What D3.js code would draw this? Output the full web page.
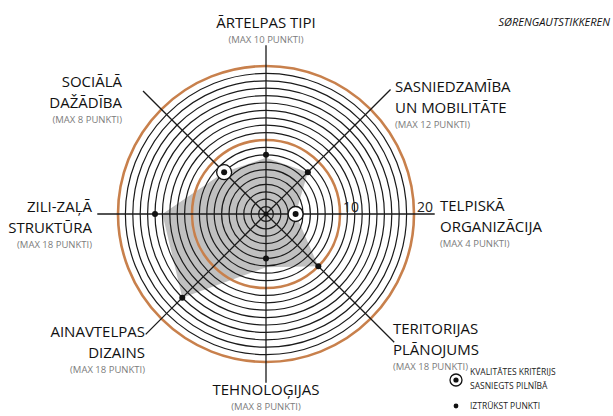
<!DOCTYPE html>
<html>
<head>
<meta charset="utf-8">
<script src="https://cdn.jsdelivr.net/npm/d3@7"></script>
<style>
  html, body { margin: 0; padding: 0; background: #fff; }
  svg { display: block; }
  text { font-family: "Open Sans", "Noto Sans", sans-serif; }
</style>
</head>
<body>
<svg id="chart" width="613" height="416"></svg>
<script>
// Criteria, clockwise from the top
const criteria = ["ĀRTELPAS TIPI", "SASNIEDZAMĪBA UN MOBILITĀTE", "TELPISKĀ ORGANIZĀCIJA",
  "TERITORIJAS PLĀNOJUMS", "TEHNOLOĢIJAS", "AINAVTELPAS DIZAINS",
  "ZILI-ZAĻĀ STRUKTŪRA", "SOCIĀLĀ DAŽĀDĪBA"];
const labelLines = [["ĀRTELPAS TIPI"], ["SASNIEDZAMĪBA", "UN MOBILITĀTE"], ["TELPISKĀ", "ORGANIZĀCIJA"],
  ["TERITORIJAS", "PLĀNOJUMS"], ["TEHNOLOĢIJAS"], ["AINAVTELPAS", "DIZAINS"],
  ["ZILI-ZAĻĀ", "STRUKTŪRA"], ["SOCIĀLĀ", "DAŽĀDĪBA"]];
const maxPoints = [10, 12, 4, 18, 8, 18, 18, 8];
// Score markers on each spoke
const scores = [8, 8, 4, 10, 6, 16, 15, 8];
const fullyMet = [false, false, true, false, false, false, false, true];
// Shaded profile
const profile = [7.6, 8, 4, 10, 7.2, 16, 14, 8];
const rings = d3.range(1, 21);
const ringLabels = [10, 20];

const cx = 266, cy = 214;
const svg = d3.select("#chart");
const r = d3.scaleLinear().domain([0, 20]).range([0, 148]);
const angle = d3.scaleLinear().domain([0, criteria.length]).range([0, 2 * Math.PI]);
const g = svg.append("g").attr("transform", `translate(${cx},${cy})`);

const pt = (i, v) => {
  const a = angle(i);
  return [Math.sin(a) * r(v), -Math.cos(a) * r(v)];
};

// shaded profile
g.append("path")
  .attr("d", d3.lineRadial().angle((d, i) => angle(i)).radius(d => r(d)).curve(d3.curveLinearClosed)(profile))
  .attr("fill", "#c0c0c0");

// rings
g.selectAll("circle.ring").data(rings).join("circle")
  .attr("class", "ring")
  .attr("r", d => r(d))
  .attr("fill", "none")
  .attr("stroke", d => d % 10 === 0 ? "#c8804c" : "#1a1a1a")
  .attr("stroke-width", d => d % 10 === 0 ? 2.6 : 1.2);

// spokes
const spokeLen = [22.8, 23.8, 22.8, 24.5, 22.8, 23, 22.8, 23.5];
g.selectAll("line.spoke").data(criteria).join("line")
  .attr("class", "spoke")
  .attr("x1", 0).attr("y1", 0)
  .attr("x2", (d, i) => pt(i, spokeLen[i])[0])
  .attr("y2", (d, i) => pt(i, spokeLen[i])[1])
  .attr("stroke", "#1a1a1a").attr("stroke-width", 1.3);

// center mark
g.append("circle").attr("r", 2.5).attr("fill", "#111");

// ring value labels along the right spoke
g.selectAll("text.rl").data(ringLabels).join("text")
  .attr("class", "rl")
  .attr("x", d => r(d) + 3).attr("y", -2)
  .attr("font-size", 14).attr("fill", "#222")
  .text(d => d);

// markers
scores.forEach((v, i) => {
  const [x, y] = pt(i, v);
  if (fullyMet[i]) {
    g.append("circle").attr("cx", x).attr("cy", y).attr("r", 7.5)
      .attr("fill", "#fff").attr("stroke", "#111").attr("stroke-width", 1.3);
  }
  g.append("circle").attr("cx", x).attr("cy", y).attr("r", 3).attr("fill", "#111");
});

// criterion labels (baseline of first line)
const labelPos = [
  {x: 266, y: 28, anchor: "middle"},
  {x: 395, y: 92, anchor: "start"},
  {x: 440, y: 211, anchor: "start"},
  {x: 393, y: 334, anchor: "start"},
  {x: 266, y: 395, anchor: "middle"},
  {x: 145, y: 337, anchor: "end"},
  {x: 92, y: 212, anchor: "end"},
  {x: 122, y: 87, anchor: "end"}
];
const lineGap = 20.5;
labelLines.forEach((lines, i) => {
  const p = labelPos[i];
  const t = svg.append("text").attr("text-anchor", p.anchor)
    .attr("font-size", 15).attr("fill", "#111");
  lines.forEach((s, k) => {
    t.append("tspan").attr("x", p.x).attr("y", p.y + k * lineGap).text(s);
  });
  svg.append("text").attr("text-anchor", p.anchor)
    .attr("x", p.x).attr("y", p.y + (lines.length - 1) * lineGap + 15)
    .attr("font-size", 9.5).attr("fill", "#7c7c7c")
    .text(`(MAX ${maxPoints[i]} PUNKTI)`);
});

// source tag
svg.append("text").attr("x", 610).attr("y", 26).attr("text-anchor", "end")
  .attr("font-size", 11).attr("font-style", "italic").attr("fill", "#111")
  .text("SØRENGAUTSTIKKEREN");

// legend
const lg = svg.append("g").attr("transform", "translate(456,380)");
lg.append("circle").attr("r", 6).attr("fill", "#fff").attr("stroke", "#111").attr("stroke-width", 1.3);
lg.append("circle").attr("r", 2.6).attr("fill", "#111");
lg.append("text").attr("x", 14).attr("y", -5).attr("font-size", 8.5).attr("fill", "#222").text("KVALITĀTES KRITĒRIJS");
lg.append("text").attr("x", 14).attr("y", 9).attr("font-size", 8.5).attr("fill", "#222").text("SASNIEGTS PILNĪBĀ");
lg.append("circle").attr("cy", 26).attr("r", 2.4).attr("fill", "#111");
lg.append("text").attr("x", 14).attr("y", 29).attr("font-size", 8.5).attr("fill", "#222").text("IZTRŪKST PUNKTI");
</script>
</body>
</html>
